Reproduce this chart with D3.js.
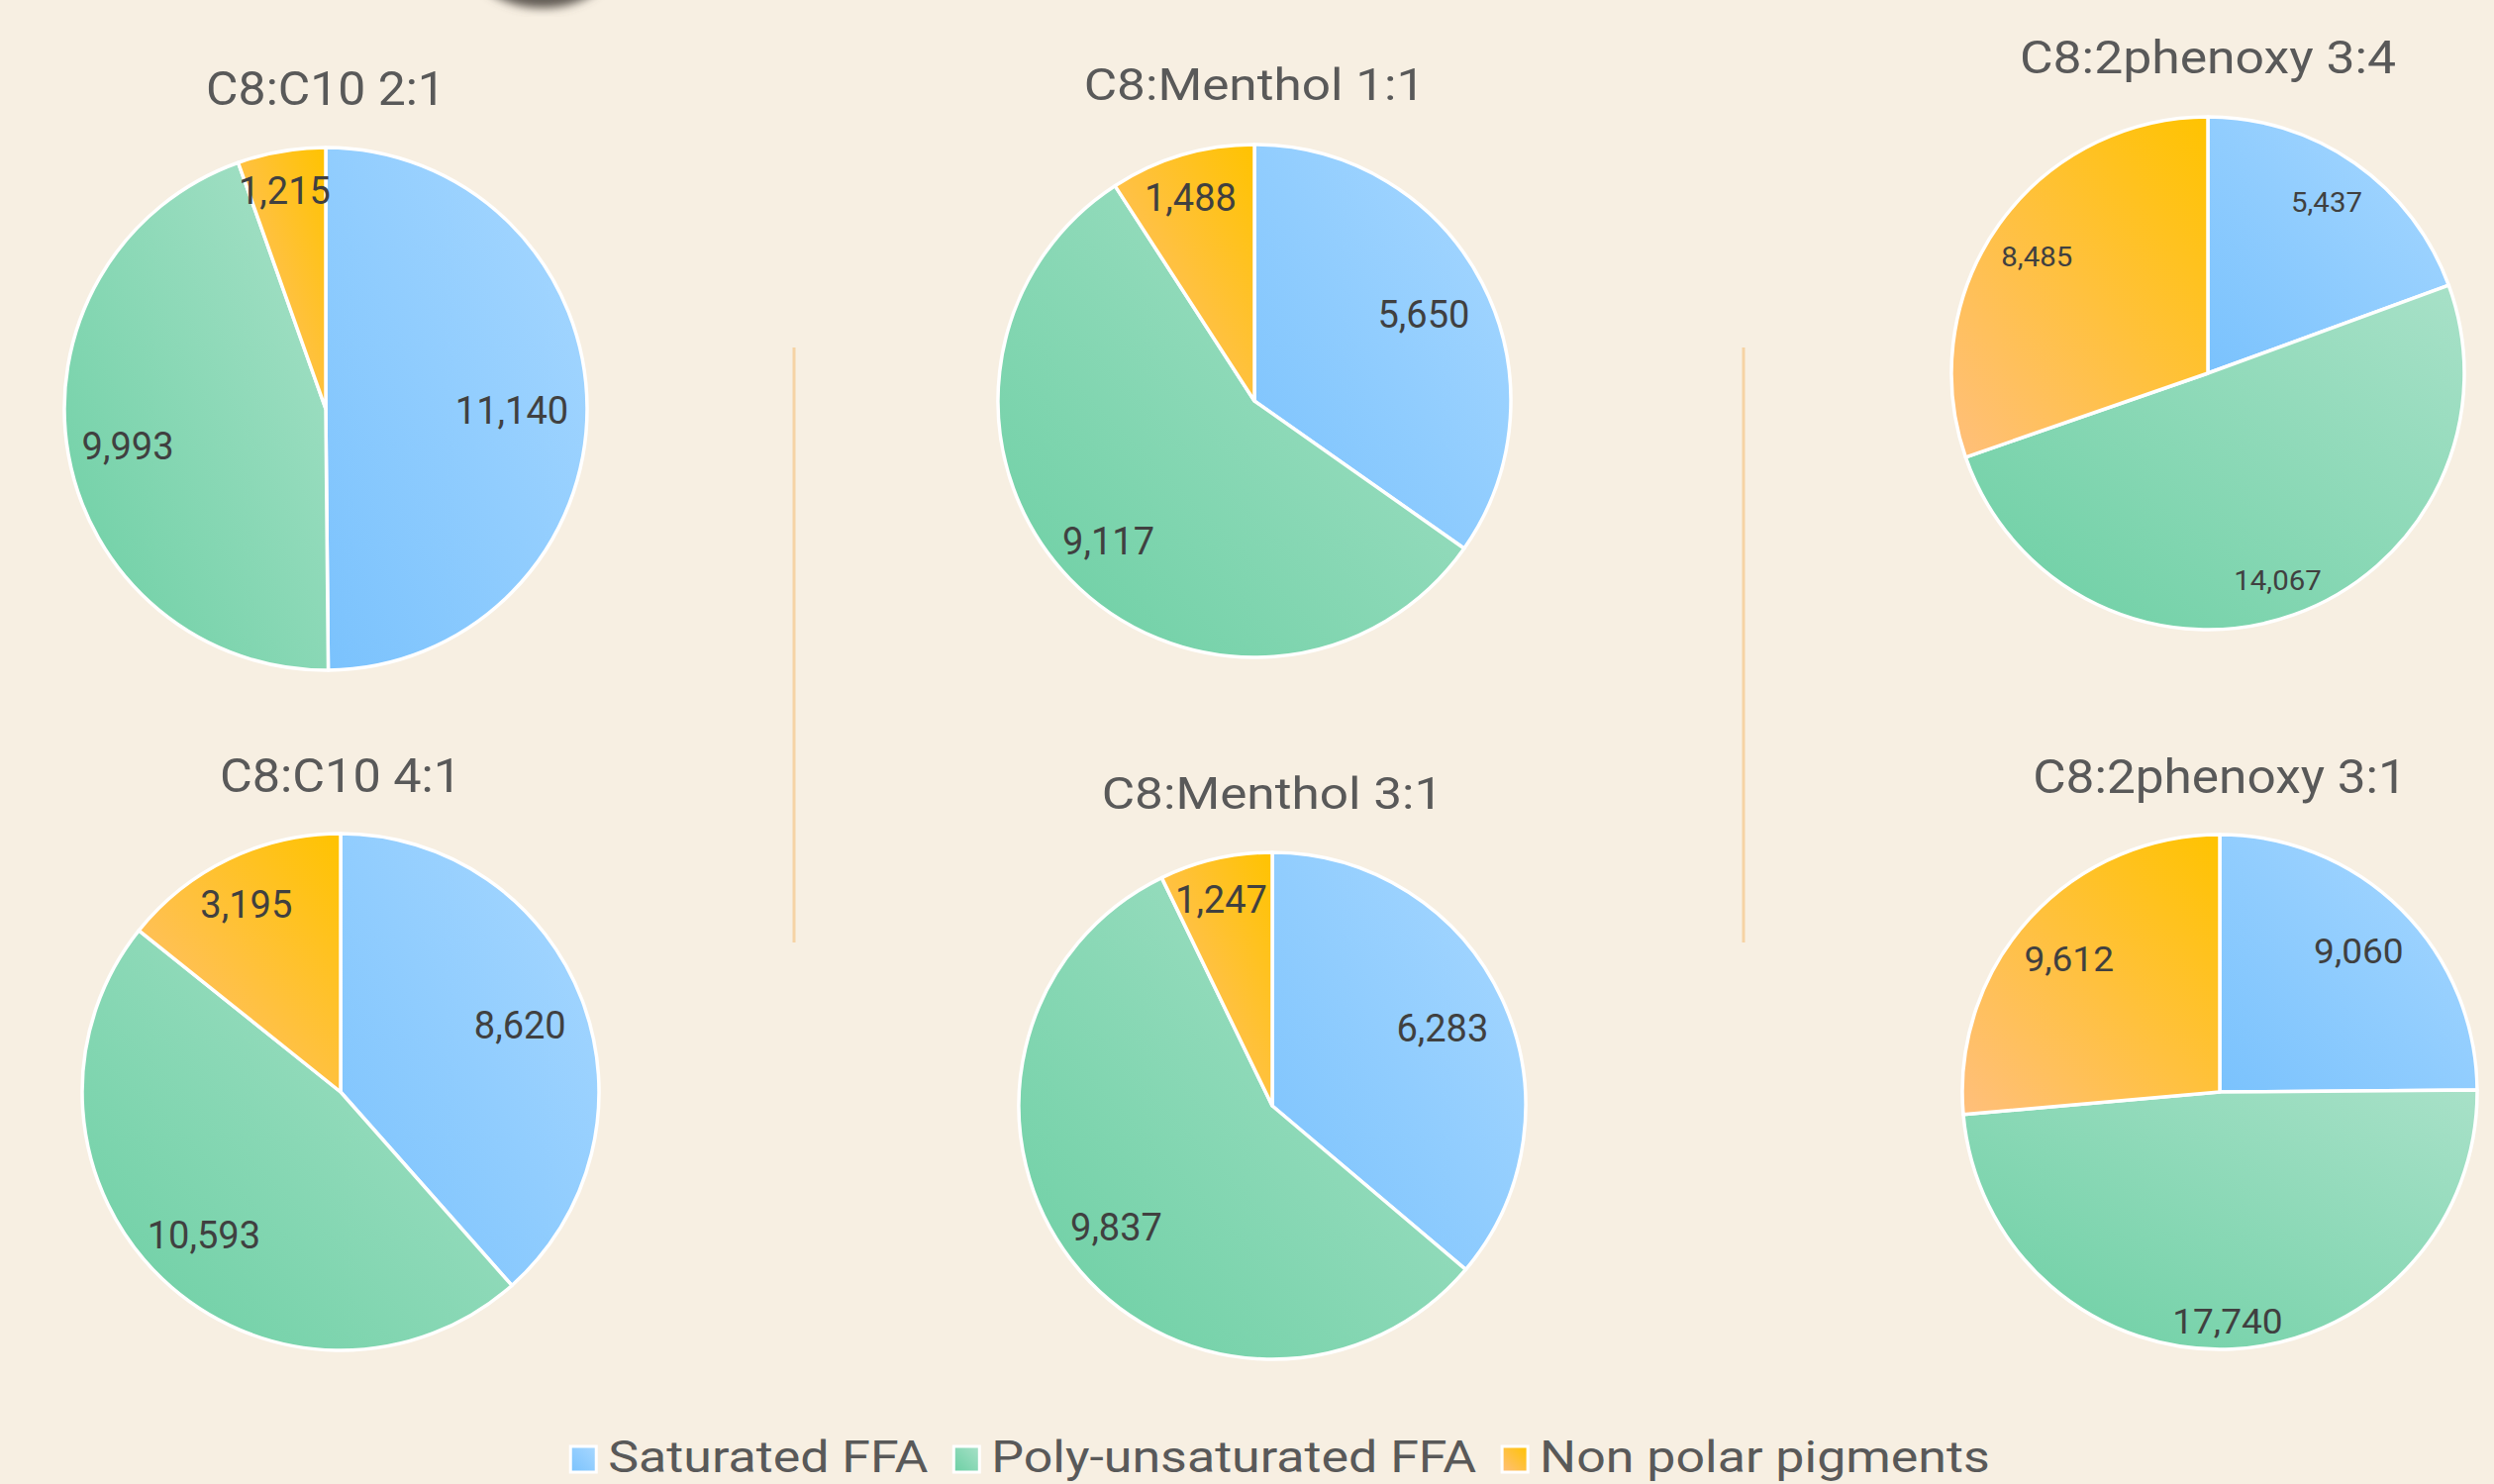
<!DOCTYPE html>
<html>
<head>
<meta charset="utf-8">
<script src="https://cdn.jsdelivr.net/npm/d3@7"></script>
<style>
  html, body { margin: 0; padding: 0; background: #f7efe2; overflow: hidden; }
</style>
</head>
<body>
<div id="chart"></div>
<script>
// data
const chartTitles = ['C8:C10 2:1', 'C8:Menthol 1:1', 'C8:2phenoxy 3:4', 'C8:C10 4:1', 'C8:Menthol 3:1', 'C8:2phenoxy 3:1'];
const seriesNames = ['Saturated FFA', 'Poly-unsaturated FFA', 'Non polar pigments'];
const saturatedFFA = [11140, 5650, 5437, 8620, 6283, 9060];
const polyUnsaturatedFFA = [9993, 9117, 14067, 10593, 9837, 17740];
const nonPolarPigments = [1215, 1488, 8485, 3195, 1247, 9612];

const width = 2519;
const height = 1499;

// where each small pie sits on the canvas
const pieLayout = [
    {cx: 329,  cy: 413,  r: 264, titleY: 106, titleSize: 48, titleStretch: 1.04, labelSize: 38, labelStretch: 1.0},
    {cx: 1267, cy: 405,  r: 259, titleY: 101, titleSize: 45, titleStretch: 1.14, labelSize: 38, labelStretch: 1.0},
    {cx: 2230, cy: 377,  r: 259, titleY: 74,  titleSize: 47, titleStretch: 1.10, labelSize: 28, labelStretch: 1.05},
    {cx: 344,  cy: 1103, r: 261, titleY: 800, titleSize: 48, titleStretch: 1.05, labelSize: 38, labelStretch: 1.0},
    {cx: 1285, cy: 1117, r: 256, titleY: 817, titleSize: 45, titleStretch: 1.14, labelSize: 38, labelStretch: 1.0},
    {cx: 2242, cy: 1103, r: 260, titleY: 801, titleSize: 48, titleStretch: 1.07, labelSize: 35, labelStretch: 1.06}
];

const gradientStops = [
    ['#7ac2fd', '#a8d8ff'],
    ['#6bcfa3', '#a8e1c8'],
    ['#ffbf7c', '#ffc300']
];

const svg = d3.select('#chart')
    .append('svg')
    .attr('width', width)
    .attr('height', height)
    .style('display', 'block')
    .style('font-family', 'Roboto, "Noto Sans", sans-serif');

svg.append('rect')
    .attr('width', width)
    .attr('height', height)
    .attr('fill', '#f7efe2');

const defs = svg.append('defs');

seriesNames.forEach((name, i) => {
    const g = defs.append('linearGradient')
        .attr('id', 'grad' + i)
        .attr('x1', 0).attr('y1', 1)
        .attr('x2', 1).attr('y2', 0);
    g.append('stop').attr('offset', '0%').attr('stop-color', gradientStops[i][0]);
    g.append('stop').attr('offset', '100%').attr('stop-color', gradientStops[i][1]);
});

defs.append('filter')
    .attr('id', 'blur')
    .append('feGaussianBlur')
    .attr('stdDeviation', 5);

// dark object peeking in at the top edge
svg.append('ellipse')
    .attr('cx', 548)
    .attr('cy', -36)
    .attr('rx', 70)
    .attr('ry', 44)
    .attr('fill', '#625c55')
    .attr('filter', 'url(#blur)');

// faint separators between the columns
[802, 1761].forEach(x => {
    svg.append('line')
        .attr('x1', x).attr('x2', x)
        .attr('y1', 351).attr('y2', 952)
        .attr('stroke', '#f6d3a4')
        .attr('stroke-width', 3);
});

const pie = d3.pie()
    .sort(null)
    .value(d => d.value);

const labelFormat = d3.format(',');

chartTitles.forEach((title, p) => {
    const lay = pieLayout[p];
    const values = [saturatedFFA[p], polyUnsaturatedFFA[p], nonPolarPigments[p]];
    const data = values.map((v, i) => ({key: seriesNames[i], value: v, index: i}));

    const arc = d3.arc()
        .innerRadius(0)
        .outerRadius(lay.r);

    const g = svg.append('g')
        .attr('transform', `translate(${lay.cx},${lay.cy})`);

    g.selectAll('path')
        .data(pie(data))
        .join('path')
        .attr('d', arc)
        .attr('fill', d => `url(#grad${d.data.index})`)
        .attr('stroke', '#ffffff')
        .attr('stroke-width', 3.5)
        .attr('stroke-linejoin', 'round');

    // labels sit just inside the rim, like Excel's inside-end placement
    g.selectAll('text.lbl')
        .data(pie(data))
        .join('text')
        .attr('class', 'lbl')
        .attr('text-anchor', 'middle')
        .attr('dominant-baseline', 'central')
        .style('font-size', lay.labelSize + 'px')
        .attr('fill', '#404040')
        .text(d => labelFormat(d.data.value))
        .each(function(d) {
            const a = (d.startAngle + d.endAngle) / 2;
            const hw = this.getComputedTextLength() * lay.labelStretch / 2;
            const hh = lay.labelSize * 0.36;
            const dist = 0.94 * lay.r - (hw * Math.abs(Math.sin(a)) + hh * Math.abs(Math.cos(a)));
            const x = Math.sin(a) * dist - 3;
            const y = -Math.cos(a) * dist + 3;
            d3.select(this).attr('transform', `translate(${x},${y}) scale(${lay.labelStretch},1)`);
        });

    svg.append('text')
        .attr('transform', `translate(${lay.cx},${lay.titleY}) scale(${lay.titleStretch},1)`)
        .attr('text-anchor', 'middle')
        .style('font-size', lay.titleSize + 'px')
        .attr('fill', '#595959')
        .text(title);
});

// legend along the bottom
const legendSize = 44;
const legendStretch = 1.18;
const legendY = 1474;
const legend = svg.append('g');
let legendX = 0;
seriesNames.forEach((name, i) => {
    const item = legend.append('g').attr('transform', `translate(${legendX},0)`);
    item.append('rect')
        .attr('x', 2)
        .attr('y', legendY - 13)
        .attr('width', 26)
        .attr('height', 26)
        .attr('fill', `url(#grad${i})`)
        .attr('stroke', '#ffffff')
        .attr('stroke-width', 3);
    const t = item.append('text')
        .attr('transform', `translate(40,${legendY + 13}) scale(${legendStretch},1)`)
        .style('font-size', legendSize + 'px')
        .attr('fill', '#595959')
        .text(name);
    legendX += 40 + t.node().getComputedTextLength() * legendStretch + 24;
});
legend.attr('transform', `translate(${1292 - (legendX - 24) / 2},0)`);
</script>
</body>
</html>
